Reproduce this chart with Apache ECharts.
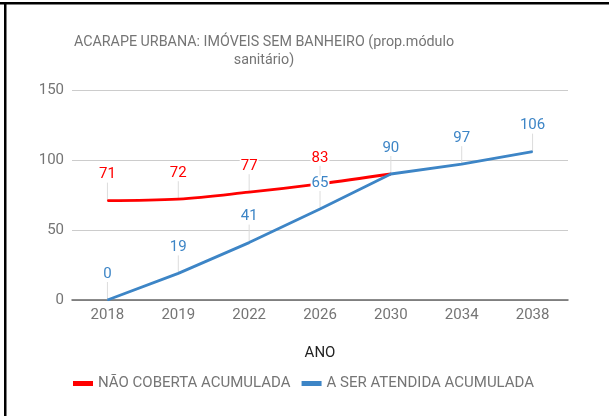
<!DOCTYPE html>
<html>
<head>
<meta charset="utf-8">
<script src="https://cdn.jsdelivr.net/npm/echarts@6/dist/echarts.min.js"></script>
<style>
  html, body { margin: 0; padding: 0; background: #fff; }
  #chart { width: 609px; height: 416px; }
</style>
</head>
<body>
<div id="chart"></div>
<script>
// Anos (eixo X)
const anos = ['2018', '2019', '2022', '2026', '2030', '2034', '2038'];
// Séries acumuladas de imóveis sem banheiro
const naoCoberta = [71, 72, 77, 83, 90, null, null];
const aSerAtendida = [0, 19, 41, 65, 90, 97, 106];
// Ticks do eixo Y
const yTicks = [0, 50, 100, 150];

const RED = '#ff0000';
const BLUE = '#3d85c6';
const GRAY = '#757575';
const FONT = 'Roboto';
const STEM = 18;        // altura da haste entre o ponto e o rótulo (px)
const FS = 15;

const chart = echarts.init(document.getElementById('chart'), null, { renderer: 'canvas' });

// Rótulo de valor com fundo branco, acima do ponto
const labelCfg = (color, hideIdx) => ({
  show: true,
  position: 'top',
  distance: STEM,
  color: color,
  fontFamily: FONT,
  fontSize: FS,
  backgroundColor: '#fff',
  padding: [0, 1],
  formatter: p => (hideIdx.includes(p.dataIndex) ? '' : String(p.value))
});

// Hastes verticais finas ligando cada ponto ao seu rótulo
const stemSeries = (data, hideIdx, z) => ({
  type: 'custom',
  silent: true,
  z: z,
  data: data.map((v, i) => (v == null || hideIdx.includes(i) ? null : [i, v])),
  renderItem: (params, api) => {
    const p = api.coord([api.value(0), api.value(1)]);
    return {
      type: 'line',
      shape: { x1: p[0], y1: p[1], x2: p[0], y2: p[1] - STEM },
      style: { stroke: '#dcdcdc', lineWidth: 1 }
    };
  }
});

chart.setOption({
  animation: false,
  backgroundColor: '#fff',
  textStyle: { fontFamily: FONT },
  title: {
    text: 'ACARAPE URBANA: IMÓVEIS SEM BANHEIRO (prop.módulo\nsanitário)',
    left: 264,
    top: 33,
    padding: 0,
    textAlign: 'center',
    textStyle: { fontFamily: FONT, fontSize: 14.3, fontWeight: 'normal', color: GRAY, lineHeight: 18 }
  },
  graphic: [
    { type: 'rect', shape: { x: 0, y: 2, width: 609, height: 2.5 }, style: { fill: '#000' }, silent: true },
    { type: 'rect', shape: { x: 4, y: 2, width: 2.5, height: 414 }, style: { fill: '#000' }, silent: true }
  ],
  legend: {
    left: 68,
    top: 371,
    itemGap: 11,
    itemWidth: 20,
    itemHeight: 5,
    icon: 'rect',
    textStyle: { fontFamily: FONT, fontSize: FS, color: GRAY },
    data: ['NÃO COBERTA ACUMULADA', 'A SER ATENDIDA ACUMULADA']
  },
  grid: { left: 72, right: 41, top: 90, bottom: 116, containLabel: false },
  xAxis: {
    type: 'category',
    data: anos,
    boundaryGap: true,
    name: 'ANO',
    nameLocation: 'middle',
    nameGap: 46,
    nameTextStyle: { fontFamily: FONT, fontSize: FS, color: '#222' },
    axisLine: { show: true, lineStyle: { color: '#666', width: 1.5 } },
    axisTick: { show: false },
    axisLabel: { color: GRAY, fontFamily: FONT, fontSize: FS, margin: 8 }
  },
  yAxis: {
    type: 'value',
    min: yTicks[0],
    max: yTicks[yTicks.length - 1],
    interval: 50,
    axisLine: { show: false },
    axisTick: { show: false },
    splitLine: { lineStyle: { color: '#cccccc', width: 1 } },
    axisLabel: { color: GRAY, fontFamily: FONT, fontSize: FS, margin: 8 }
  },
  series: [
    stemSeries(naoCoberta, [4], 1),
    stemSeries(aSerAtendida, [], 1),
    {
      name: 'NÃO COBERTA ACUMULADA',
      type: 'line',
      data: naoCoberta,
      smooth: 0.35,
      showSymbol: true,
      symbol: 'circle',
      symbolSize: 1,
      itemStyle: { color: RED },
      lineStyle: { color: RED, width: 2.8 },
      label: labelCfg(RED, [4]),
      z: 2
    },
    {
      name: 'A SER ATENDIDA ACUMULADA',
      type: 'line',
      data: aSerAtendida,
      smooth: false,
      showSymbol: true,
      symbol: 'circle',
      symbolSize: 1,
      itemStyle: { color: BLUE },
      lineStyle: { color: BLUE, width: 2.8 },
      label: labelCfg(BLUE, []),
      z: 3
    }
  ]
});
</script>
</body>
</html>
